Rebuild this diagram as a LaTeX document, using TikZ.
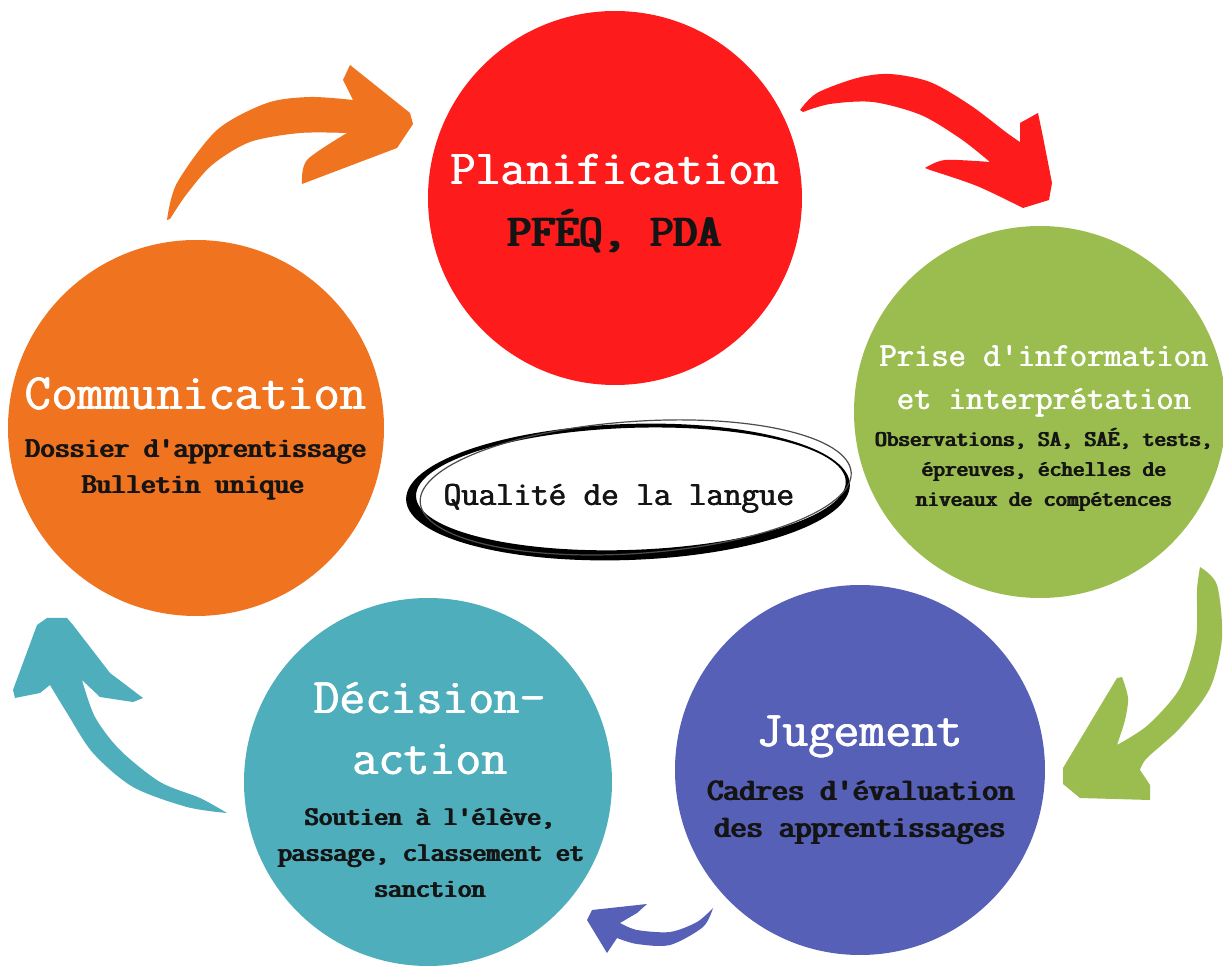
\documentclass[tikz,border=0pt]{standalone}
\usepackage{fontspec}
\definecolor{cRed}{RGB}{254,27,28}
\definecolor{cOrange}{RGB}{240,115,31}
\definecolor{cGreen}{RGB}{155,189,79}
\definecolor{cBlue}{RGB}{86,96,182}
\definecolor{cTeal}{RGB}{79,174,187}
\definecolor{cInk}{RGB}{20,20,20}
\newcommand\heavy[2]{\leavevmode\rlap{#2}\rlap{\hskip#1\relax #2}\hskip#1\relax\hskip#1\relax #2}
\begin{document}
\begin{tikzpicture}[x=0.5pt,y=-0.5pt,inner sep=0pt,
  blob/.style={circle,inner sep=0pt,minimum size=#1},
  title/.style={anchor=base,text=white,font=\ttfamily\fontsize{#1}{#1}\selectfont},
  sub/.style={anchor=base,text=cInk,font=\ttfamily\fontsize{#1}{#1}\selectfont}]
\useasboundingbox (0,0) rectangle (1223,968);
\fill[white] (0,0) rectangle (1223,968);

% circles
\node[blob=187pt,fill=cRed]    (plan) at (615,198) {};
\node[blob=186pt,fill=cGreen]  (prise) at (1040,412) {};
\node[blob=185pt,fill=cBlue]   (jug) at (860,770) {};
\node[blob=184pt,fill=cTeal]   (dec) at (428,782) {};
\node[blob=188pt,fill=cOrange] (comm) at (196,428) {};

% arrows (brush shapes)
\fill[cOrange] (167,220) -- plot[smooth] coordinates {(167,220) (177,183) (217,130) (267,103) (310,97) (353,100)}
  -- (343,80) -- (350,65) -- (410,113) -- (413,124) -- (397,148) -- (302,184)
  -- plot[smooth] coordinates {(302,184) (307,160) (347,133)}
  -- plot[smooth] coordinates {(347,133) (300,133) (250,142) (212,165) (186,195) (170,219)} -- cycle;

\fill[cRed] (800,110) -- plot[smooth] coordinates {(800,110) (817,93) (857,78) (890,74) (930,82) (970,105) (1007,133) (1020,142)}
  -- (1020,123) -- (1038,113) -- (1043,137) -- (1052,183) -- (1049,200) -- (1023,208)
  -- plot[smooth] coordinates {(1023,208) (977,186) (930,170)} -- (925,168)
  -- plot[smooth] coordinates {(925,168) (945,160) (990,162)}
  -- plot[smooth] coordinates {(990,162) (961,139) (921,115) (873,102) (830,104) (803,112)} -- cycle;

\fill[cGreen] (1200,567) -- plot[smooth] coordinates {(1200,567) (1217,585) (1222,638) (1210,688) (1180,728) (1147,758) (1140,770)}
  -- (1150,785) -- (1150,800) -- (1080,798) -- (1063,784) -- (1063,768) -- (1117,678) -- (1122,677)
  -- plot[smooth] coordinates {(1122,677) (1128,698) (1125,720) (1117,745)}
  -- plot[smooth] coordinates {(1117,745) (1148,725) (1180,688) (1196,638) (1197,590) (1200,567)} -- cycle;

\fill[cBlue] (713,908) -- plot[smooth] coordinates {(713,908) (703,927) (670,945) (637,944) (617,938)}
  -- (607,953) -- (587,920) -- (592,910) -- (647,904) -- (637,913) -- (620,923)
  -- plot[smooth] coordinates {(620,923) (637,930) (670,932) (697,922) (713,908)} -- cycle;

\fill[cTeal] (227,813) -- plot[smooth] coordinates {(227,813) (187,807) (133,787) (93,753) (67,713) (50,685)}
  -- (40,693) -- (15,698) -- (13,690) -- (37,625) -- (47,618) -- (67,618) -- (73,625) -- (110,673)
  -- (143,698) -- (133,702) -- (100,697) -- (82,680)
  -- plot[smooth] coordinates {(82,680) (95,717) (120,750) (160,782) (200,798) (227,813)} -- cycle;

% brush ellipse
\coordinate (ec) at (628,492);
\fill[black,even odd rule,rotate around={2:(ec)}] (ec) ellipse [x radius=111pt, y radius=34pt]
  ([shift={(3,-3)}]ec) ellipse [x radius=107.5pt, y radius=30.5pt];
\draw[black!70,line width=0.6pt,rotate around={4:(ec)}] ([shift={(8,-4)}]ec) ellipse [x radius=108pt, y radius=33pt];

% texts
\node[title=24.5] (tplan) at (615,185) {\heavy{0.25pt}{Planification}};
\node[sub=23] (tpfeq) at (615,247) {\heavy{0.7pt}{PFÉQ, PDA}};

\node[title=16.8] (tprise) at (1044,367) {\heavy{0.2pt}{Prise d'information}};
\node[title=16.8] (tinter) at (1044,410) {\heavy{0.2pt}{et interprétation}};
\node[sub=11.3] (tobs) at (1044,447) {\heavy{0.4pt}{Observations, SA, SAÉ, tests,}};
\node[sub=11.3] (tepr) at (1044,477) {\heavy{0.4pt}{épreuves, échelles de}};
\node[sub=11.3] (tniv) at (1044,507) {\heavy{0.4pt}{niveaux de compétences}};

\node[title=25.5] (tcomm) at (196,410) {\heavy{0.25pt}{Communication}};
\node[sub=14.4] (tdos) at (196,458) {\heavy{0.5pt}{Dossier d'apprentissage}};
\node[sub=14.4] (tbul) at (193,494) {\heavy{0.5pt}{Bulletin unique}};

\node[anchor=base,text=cInk,font=\ttfamily\fontsize{17}{17}\selectfont] (qual) at (619,506) {\heavy{0.25pt}{Qualité de la langue}};

\node[title=25] (tdec) at (430,713) {\heavy{0.25pt}{Décision-}};
\node[title=25] (tact) at (430,775) {\heavy{0.25pt}{action}};
\node[sub=13.5] (tsou) at (430,825) {\heavy{0.5pt}{Soutien à l'élève,}};
\node[sub=13.5] (tpas) at (431,861) {\heavy{0.5pt}{passage, classement et}};
\node[sub=13.5] (tsan) at (430,897) {\heavy{0.5pt}{sanction}};

\node[title=25] (tjug) at (860,747) {\heavy{0.25pt}{Jugement}};
\node[sub=15.7] (tcad) at (861,800) {\heavy{0.55pt}{Cadres d'évaluation}};
\node[sub=15.7] (tdes) at (860,837) {\heavy{0.55pt}{des apprentissages}};
\end{tikzpicture}
\end{document}
